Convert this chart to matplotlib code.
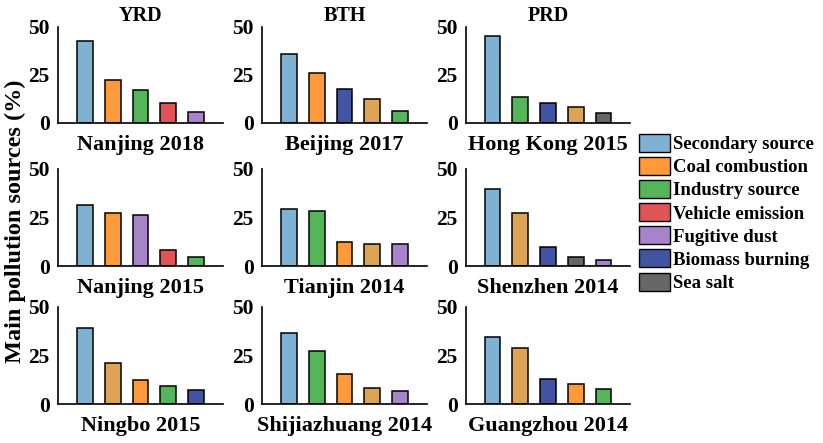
import matplotlib.pyplot as plt
from matplotlib.patches import Patch

plt.rcParams['font.family'] = ['Liberation Serif', 'DejaVu Serif']
plt.rcParams['font.weight'] = 'bold'

# colores por fuente de contaminación
COLORS = {
    "Secondary source":  "#7FB1D3",
    "Coal combustion":   "#FE9A3A",
    "Industry source":   "#55B559",
    "Vehicle emission":  "#E05356",
    "Fugitive dust":     "#A783C9",
    "Biomass burning":   "#4254A2",
    "Sea salt":          "#666666",
    "Other":             "#DDA456",   # no aparece en la leyenda
}
LEGEND_ITEMS = ["Secondary source", "Coal combustion", "Industry source",
                "Vehicle emission", "Fugitive dust", "Biomass burning", "Sea salt"]

REGIONS = ["YRD", "BTH", "PRD"]

# filas x columnas (columna = región)
CITIES = [
    ["Nanjing 2018", "Beijing 2017", "Hong Kong 2015"],
    ["Nanjing 2015", "Tianjin 2014", "Shenzhen 2014"],
    ["Ningbo 2015", "Shijiazhuang 2014", "Guangzhou 2014"],
]

nanjing_2018 = [42.7, 22.6, 17.4, 10.4, 5.7]
nanjing_2018_src = ["Secondary source", "Coal combustion", "Industry source",
                    "Vehicle emission", "Fugitive dust"]
beijing_2017 = [36.1, 26.2, 17.9, 12.7, 6.4]
beijing_2017_src = ["Secondary source", "Coal combustion", "Biomass burning",
                    "Other", "Industry source"]
hongkong_2015 = [45.5, 13.5, 10.4, 8.3, 5.2]
hongkong_2015_src = ["Secondary source", "Industry source", "Biomass burning",
                     "Other", "Sea salt"]
nanjing_2015 = [31.6, 27.4, 26.2, 8.3, 4.5]
nanjing_2015_src = ["Secondary source", "Coal combustion", "Fugitive dust",
                    "Vehicle emission", "Industry source"]
tianjin_2014 = [29.3, 28.3, 12.4, 11.2, 11.2]
tianjin_2014_src = ["Secondary source", "Industry source", "Coal combustion",
                    "Other", "Fugitive dust"]
shenzhen_2014 = [39.8, 27.1, 9.7, 4.5, 3.1]
shenzhen_2014_src = ["Secondary source", "Other", "Biomass burning",
                     "Sea salt", "Fugitive dust"]
ningbo_2015 = [39.2, 21.3, 12.5, 9.3, 7.4]
ningbo_2015_src = ["Secondary source", "Other", "Coal combustion",
                   "Industry source", "Biomass burning"]
shijiazhuang_2014 = [36.8, 27.5, 15.5, 8.2, 6.9]
shijiazhuang_2014_src = ["Secondary source", "Industry source", "Coal combustion",
                         "Other", "Fugitive dust"]
guangzhou_2014 = [34.5, 28.9, 12.9, 10.3, 7.9]
guangzhou_2014_src = ["Secondary source", "Other", "Biomass burning",
                      "Coal combustion", "Industry source"]

VALUES = [
    [(nanjing_2018, nanjing_2018_src), (beijing_2017, beijing_2017_src),
     (hongkong_2015, hongkong_2015_src)],
    [(nanjing_2015, nanjing_2015_src), (tianjin_2014, tianjin_2014_src),
     (shenzhen_2014, shenzhen_2014_src)],
    [(ningbo_2015, ningbo_2015_src), (shijiazhuang_2014, shijiazhuang_2014_src),
     (guangzhou_2014, guangzhou_2014_src)],
]

W, H = 823, 443
fig = plt.figure(figsize=(W / 100, H / 100), dpi=100)

# posiciones en píxeles (izquierda, derecha) y (arriba, abajo)
col_px = [(58, 223), (262, 427), (466, 630)]
row_px = [(27, 123), (169, 266), (307, 404)]

for r in range(3):
    for c in range(3):
        x0, x1 = col_px[c]
        y0, y1 = row_px[r]
        ax = fig.add_axes([x0 / W, 1 - y1 / H, (x1 - x0) / W, (y1 - y0) / H])
        vals, srcs = VALUES[r][c]
        xs = range(1, len(vals) + 1)
        ax.bar(xs, vals, width=0.57, color=[COLORS[s] for s in srcs],
               edgecolor='black', linewidth=1.1)
        ax.set_xlim(0.04, 5.96)
        ax.set_ylim(0, 50)
        ax.set_yticks([0, 25, 50])
        ax.set_xticks([])
        ax.tick_params(axis='y', length=0, pad=6, labelsize=15.5)
        for lab in ax.get_yticklabels():
            lab.set_fontweight('bold')
        for sp in ['top', 'right']:
            ax.spines[sp].set_visible(False)
        for sp in ['left', 'bottom']:
            ax.spines[sp].set_linewidth(1.2)
        ax.set_xlabel(CITIES[r][c], fontsize=16, fontweight='bold', labelpad=8.5)
        if r == 0:
            ax.set_title(REGIONS[c], fontsize=14.5, fontweight='bold', pad=4)

fig.text(15 / W, 0.5, "Main pollution sources (%)", rotation=90,
         ha='center', va='center', fontsize=17.5, fontweight='bold')

handles = [Patch(facecolor=COLORS[k], edgecolor='black', linewidth=1.0)
           for k in LEGEND_ITEMS]
fig.legend(handles, LEGEND_ITEMS, loc='upper left',
           bbox_to_anchor=(635 / W, 1 - 130 / H), frameon=False,
           prop={'size': 13.5, 'weight': 'bold'},
           handlelength=1.65, handleheight=1.1, handletextpad=0.2,
           labelspacing=0.2, borderaxespad=0, borderpad=0.2)

fig.savefig("out.png", dpi=100)
